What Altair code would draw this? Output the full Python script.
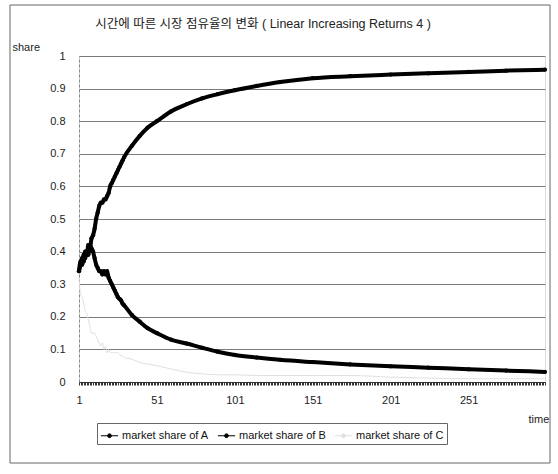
import altair as alt
import pandas as pd

# ---- data ----
times = list(range(1, 31)) + [35, 40, 45, 51, 60, 70, 80, 90, 101, 115, 130, 151, 175, 201, 225, 251, 275, 300]

share_a = [0.34, 0.36, 0.38, 0.37, 0.40, 0.39, 0.42, 0.41, 0.44, 0.45,
           0.47, 0.50, 0.52, 0.54, 0.55, 0.55, 0.56, 0.56, 0.57, 0.58,
           0.60, 0.61, 0.62, 0.63, 0.64, 0.65, 0.66, 0.67, 0.68, 0.69,
           0.725, 0.755, 0.78, 0.80, 0.83, 0.852, 0.870, 0.883, 0.895, 0.908,
           0.92, 0.932, 0.938, 0.943, 0.947, 0.951, 0.955, 0.958]

share_b = [0.34, 0.37, 0.36, 0.39, 0.38, 0.40, 0.39, 0.42, 0.41, 0.40,
           0.38, 0.36, 0.35, 0.34, 0.34, 0.33, 0.34, 0.33, 0.34, 0.32,
           0.31, 0.30, 0.29, 0.28, 0.27, 0.26, 0.255, 0.25, 0.24, 0.235,
           0.205, 0.185, 0.165, 0.15, 0.13, 0.118, 0.105, 0.093, 0.083, 0.075,
           0.068, 0.061, 0.054, 0.048, 0.044, 0.039, 0.035, 0.031]

share_c = [0.32, 0.27, 0.26, 0.24, 0.22, 0.21, 0.19, 0.17, 0.15, 0.15,
           0.15, 0.14, 0.13, 0.12, 0.11, 0.12, 0.10, 0.11, 0.09, 0.10,
           0.09, 0.09, 0.09, 0.09, 0.09, 0.09, 0.085, 0.08, 0.08, 0.075,
           0.07, 0.06, 0.055, 0.05, 0.04, 0.03, 0.025, 0.022, 0.022, 0.02,
           0.02, 0.02, 0.02, 0.015, 0.012, 0.01, 0.01, 0.01]

series_names = ["market share of A", "market share of B", "market share of C"]
series_colors = ["#000000", "#000000", "#e0e0e0"]
series_widths = [4, 4, 1]
x_tick_labels = [1, 51, 101, 151, 201, 251]
y_ticks = [0, 0.1, 0.2, 0.3, 0.4, 0.5, 0.6, 0.7, 0.8, 0.9, 1.0]

rows = []
for name, vals, w in zip(series_names, [share_a, share_b, share_c], series_widths):
    for t, v in zip(times, vals):
        rows.append({"time": t, "share": v, "series": name, "w": w})
df = pd.DataFrame(rows)

FONT = "Liberation Sans, Noto Sans CJK KR"

legend_symbol = "M-1,0H1M-0.22,0A0.22,0.22,0,1,1,0.22,0A0.22,0.22,0,1,1,-0.22,0Z"

color = alt.Color(
    "series:N",
    scale=alt.Scale(domain=series_names, range=series_colors),
    legend=alt.Legend(
        title=None, orient="none", direction="horizontal",
        legendX=18, legendY=367,
        symbolType=legend_symbol, symbolSize=300, symbolStrokeWidth=1,
        labelFont=FONT, labelFontSize=11, labelColor="#111",
        columnPadding=6, labelOffset=3,
        strokeColor="#666", padding=3, cornerRadius=0,
    ),
)

x = alt.X(
    "time:Q",
    scale=alt.Scale(domain=[1, 300], nice=False, zero=False),
    axis=alt.Axis(
        values=list(range(1, 301)), tickCount=1000,
        labelExpr="indexof(" + str(x_tick_labels) + ", datum.value) >= 0 ? datum.value : ''",
        labelOverlap=False, labelBound=False, labelFlush=False,
        labelFont=FONT, labelFontSize=11, labelColor="#222", labelPadding=9,
        tickSize=3, tickColor="#333", tickWidth=1,
        domainColor="#333", grid=False,
        title="time", titleFont=FONT, titleFontSize=11, titleFontWeight="normal",
        titleColor="#222", titleX=449, titleY=37, titleAlign="left",
        titleBaseline="middle", titleAnchor="start",
    ),
)

y = alt.Y(
    "share:Q",
    scale=alt.Scale(domain=[0, 1], nice=False),
    axis=alt.Axis(
        values=y_ticks, tickCount=100, format=".1~f", labelOverlap=False,
        labelFont=FONT, labelFontSize=11, labelColor="#222", labelPadding=14,
        ticks=False, domainColor="#888", domainDash=[3, 2],
        grid=True, gridColor="#7a7a7a", gridWidth=1,
        title="share", titleFont=FONT, titleFontSize=11, titleFontWeight="normal",
        titleColor="#222", titleAngle=0, titleX=-67, titleY=-9,
        titleAlign="left", titleBaseline="middle",
    ),
)

lines = alt.Chart(df).mark_line(interpolate="monotone").encode(
    x=x, y=y, color=color,
    strokeWidth=alt.StrokeWidth("w:Q", scale=None, legend=None),
    order="time:Q",
)

points = alt.Chart(df).transform_filter(
    alt.datum.series != "market share of C"
).mark_point(filled=True, size=18, opacity=1).encode(
    x="time:Q", y="share:Q", color=alt.Color("series:N", legend=None,
                                              scale=alt.Scale(domain=series_names, range=series_colors)),
)

frame = alt.Chart(alt.Data(values=[{}])).mark_rect(
    fill=None, stroke="#666", strokeWidth=1, clip=False
).encode(
    x=alt.value(-69), x2=alt.value(471), y=alt.value(-51), y2=alt.value(407)
)

chart = alt.layer(frame, lines, points).properties(
    width=466, height=326,
    title=alt.TitleParams(
        "시간에 따른 시장 점유율의 변화 ( Linear Increasing Returns 4 )",
        font=FONT, fontSize=12.5, fontWeight="normal", color="#222",
        anchor="middle", dx=-49, offset=-26,
    ),
    autosize=alt.AutoSizeParams(type="none"),
    padding={"left": 79, "top": 56, "right": 13, "bottom": 92},
).configure_view(stroke=None).configure(background="white")

chart.save("out.html", embed_options={"renderer": "svg", "actions": False})
